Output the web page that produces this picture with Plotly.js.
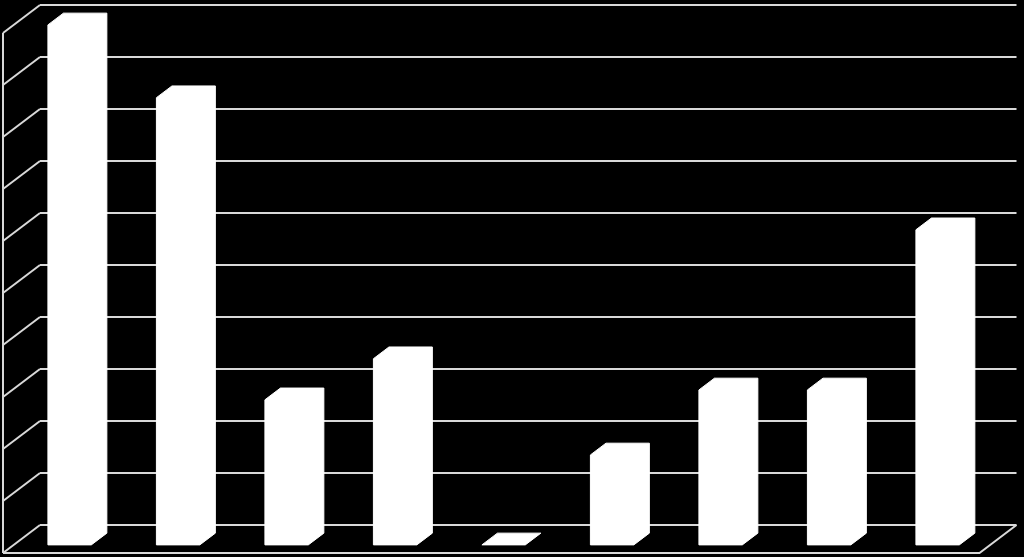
<!DOCTYPE html>
<html>
<head>
<meta charset="utf-8">
<script src="https://cdn.plot.ly/plotly-3.0.1.min.js"></script>
<style>
  html, body { margin: 0; padding: 0; background: #000; }
  #myDiv { width: 1024px; height: 557px; }
</style>
</head>
<body>
<div id="myDiv"></div>
<script>
// bar heights, one per category (no labels shown in the chart)
let values = [10, 8.6, 2.79, 3.58, 0, 1.73, 2.98, 2.98, 6.06];
// value gridlines on the back and side walls
let gridValues = [0, 1, 2, 3, 4, 5, 6, 7, 8, 9, 10];

// oblique depth: shift for the full floor depth, in axis units
let depthX = 0.341;
let depthY = 0.538;
let barLeft = 0.315, barWidth = 0.4;
let barFront = 0.29, barBack = 0.71;
let gridColor = '#d9d9d9';

function project(x, v, d) {
  return [x + d * depthX, v + d * depthY];
}

function pushPath(xs, ys, pts) {
  pts.forEach(p => { xs.push(p[0]); ys.push(p[1]); });
  xs.push(null); ys.push(null);
}

let nBars = values.length;
let maxGrid = gridValues[gridValues.length - 1];

// walls and floor
let gx = [], gy = [];
gridValues.forEach(v => {
  pushPath(gx, gy, [project(0, v, 1), project(nBars, v, 1)]);
  pushPath(gx, gy, [project(0, v, 0), project(0, v, 1)]);
});
pushPath(gx, gy, [project(0, 0, 0), project(0, maxGrid, 0)]);
pushPath(gx, gy, [project(0, 0, 0), project(nBars, 0, 0), project(nBars, 0, 1)]);

let data = [{
  type: 'scatter', mode: 'lines',
  x: gx, y: gy,
  line: {color: gridColor, width: 2},
  hoverinfo: 'skip', showlegend: false
}];

// each bar: front face + top + right side as one white outline
values.forEach((v, i) => {
  let l = i + barLeft, r = l + barWidth;
  let pts = [
    project(l, 0, barFront),
    project(l, v, barFront),
    project(l, v, barBack),
    project(r, v, barBack),
    project(r, 0, barBack),
    project(r, 0, barFront),
    project(l, 0, barFront)
  ];
  data.push({
    type: 'scatter', mode: 'lines',
    x: pts.map(p => p[0]), y: pts.map(p => p[1]),
    fill: 'toself', fillcolor: '#ffffff',
    line: {color: '#ffffff', width: 1},
    hoverinfo: 'skip', showlegend: false
  });
});

let layout = {
  width: 1024, height: 557,
  margin: {l: 0, r: 0, t: 0, b: 0},
  paper_bgcolor: '#000', plot_bgcolor: '#000',
  xaxis: {range: [-3 / 108.5, 1021 / 108.5], visible: false, fixedrange: true},
  yaxis: {range: [-4 / 52, 553 / 52], visible: false, fixedrange: true},
  showlegend: false
};

Plotly.newPlot('myDiv', data, layout, {displayModeBar: false, staticPlot: true});
</script>
</body>
</html>
